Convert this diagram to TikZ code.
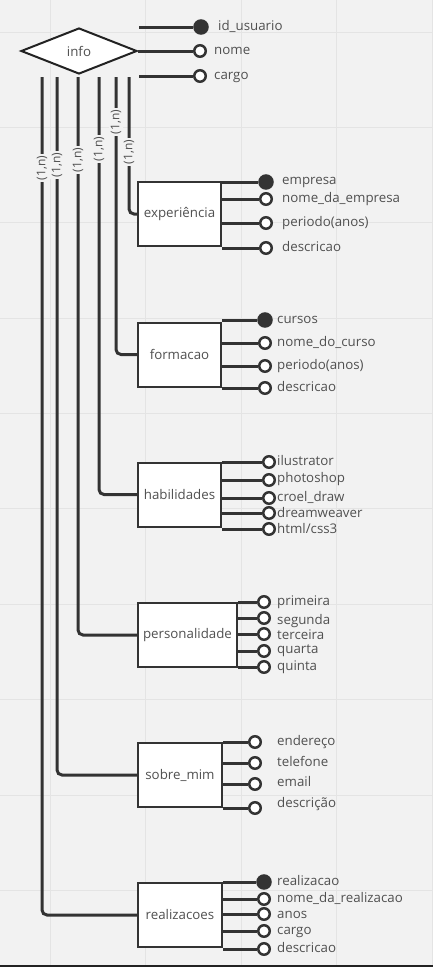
\documentclass[tikz,border=0pt]{standalone}
\usepackage{fontspec}
\setmainfont{Open Sans}
\usetikzlibrary{shapes.geometric}
\definecolor{bg}{HTML}{F2F2F2}
\definecolor{gridc}{HTML}{E4E4E4}
\definecolor{ink}{HTML}{333333}
\definecolor{txt}{HTML}{505050}
\definecolor{barc}{HTML}{222222}
\begin{document}
\begin{tikzpicture}[x=1pt,y=-1pt,
  ent/.style={draw=ink,line width=2pt,fill=white,minimum height=64pt,inner sep=0pt,font=\fontsize{13.3}{15}\selectfont,text=txt},
  rel/.style={diamond,draw=barc,line width=2pt,fill=white,minimum width=116pt,minimum height=46pt,inner sep=0pt,font=\fontsize{13.3}{15}\selectfont,text=txt},
  attr/.style={circle,draw=ink,line width=2.5pt,fill=white,minimum size=11.5pt,inner sep=0pt},
  key/.style={attr,fill=ink,minimum size=13pt},
  lbl/.style={anchor=west,inner sep=0pt,text height=9.5pt,text depth=3pt,font=\fontsize{13.3}{15}\selectfont,text=txt},
  conn/.style={draw=ink,line width=3pt},
  card/.style={fill=bg,rotate=90,inner sep=1.5pt,font=\fontsize{12}{14}\selectfont,text=txt}
]
\useasboundingbox (0,0) rectangle (433,967);
\fill[bg] (0,0) rectangle (433,967);
\foreach \gx in {50,145.5,241,336.5,432} \draw[gridc,line width=1pt] (\gx,0) -- (\gx,967);
\foreach \gy in {32,127,222.5,318,413,508.5,604,699,795,890} \draw[gridc,line width=1pt] (0,\gy) -- (433,\gy);
\fill[barc] (0,964.5) rectangle (433,967);

% relationship
\node[rel] (info) at (79,51) {info};

% top attributes
\node[key] (iid) at (201,27) {};
\node[attr] (inome) at (200,51) {};
\node[attr] (icargo) at (200,76) {};
\coordinate (s1) at (139,27);
\coordinate (s3) at (139,76);
\draw[conn] (s1) -- (iid);
\draw[conn] (info.east) -- (inome);
\draw[conn] (s3) -- (icargo);
\node[lbl] (tiid) at (218,27) {id\_usuario};
\node[lbl] (tinome) at (214,51) {nome};
\node[lbl] (ticargo) at (214,76) {cargo};

% entities
\node[ent,minimum width=83pt] (exp) at (179.5,214) {experiência};
\node[ent,minimum width=83pt] (form) at (179.5,354.5) {formacao};
\node[ent,minimum width=83pt] (hab) at (179.5,494.5) {habilidades};
\node[ent,minimum width=99pt] (pers) at (187.5,635) {personalidade};
\node[ent,minimum width=84pt] (sob) at (180,775) {sobre\_mim};
\node[ent,minimum width=84pt] (real) at (180,915) {realizacoes};

% vertical connectors from info
\coordinate (t1) at (42,77);
\coordinate (t2) at (57,77);
\coordinate (t3) at (78,77);
\coordinate (t4) at (99,77);
\coordinate (t5) at (116,77);
\coordinate (t6) at (129,77);
\draw[conn,rounded corners=5pt] (t6) |- (exp.west);
\draw[conn,rounded corners=5pt] (t5) |- (form.west);
\draw[conn,rounded corners=5pt] (t4) |- (hab.west);
\draw[conn,rounded corners=5pt] (t3) |- (pers.west);
\draw[conn,rounded corners=5pt] (t2) |- (sob.west);
\draw[conn,rounded corners=5pt] (t1) |- (real.west);
\node[card] (c1) at (42,168) {(1,n)};
\node[card] (c2) at (57,165) {(1,n)};
\node[card] (c3) at (78,160) {(1,n)};
\node[card] (c4) at (99,149) {(1,n)};
\node[card] (c5) at (116,122) {(1,n)};
\node[card] (c6) at (129,152) {(1,n)};

% experiencia attributes
\node[key] (e1) at (266,182) {};
\node[attr] (e2) at (266,199) {};
\node[attr] (e3) at (266,223) {};
\node[attr] (e4) at (266,248) {};
\foreach \a in {e1,e2,e3,e4} \draw[conn] (\a -| exp.east) -- (\a);
\node[lbl] at (282,181) {empresa};
\node[lbl] at (282,199) {nome\_da\_empresa};
\node[lbl] at (282,223) {periodo(anos)};
\node[lbl] at (282,248) {descricao};

% formacao attributes
\node[key] (f1) at (265,320) {};
\node[attr] (f2) at (265,343) {};
\node[attr] (f3) at (265,366) {};
\node[attr] (f4) at (265,388) {};
\foreach \a in {f1,f2,f3,f4} \draw[conn] (\a -| form.east) -- (\a);
\node[lbl] at (277,320) {cursos};
\node[lbl] at (277,343) {nome\_do\_curso};
\node[lbl] at (277,366) {periodo(anos)};
\node[lbl] at (277,388) {descricao};

% habilidades attributes
\node[attr] (h1) at (269,462) {};
\node[attr] (h2) at (269,480) {};
\node[attr] (h3) at (269,498) {};
\node[attr] (h4) at (269,513) {};
\node[attr] (h5) at (269,529) {};
\foreach \a in {h1,h2,h3,h4,h5} \draw[conn] (\a -| hab.east) -- (\a);
\node[lbl] at (277,462) {ilustrator};
\node[lbl] at (277,479) {photoshop};
\node[lbl] at (277,498) {croel\_draw};
\node[lbl] at (277,514) {dreamweaver};
\node[lbl] at (277,530) {html/css3};

% personalidade attributes
\node[attr] (p1) at (264,602) {};
\node[attr] (p2) at (264,618) {};
\node[attr] (p3) at (264,634) {};
\node[attr] (p4) at (264,651) {};
\node[attr] (p5) at (264,667) {};
\foreach \a in {p1,p2,p3,p4,p5} \draw[conn] (\a -| pers.east) -- (\a);
\node[lbl] at (277,602) {primeira};
\node[lbl] at (277,621) {segunda};
\node[lbl] at (277,636) {terceira};
\node[lbl] at (277,650) {quarta};
\node[lbl] at (277,667) {quinta};

% sobre_mim attributes
\node[attr] (m1) at (255,742) {};
\node[attr] (m2) at (255,763) {};
\node[attr] (m3) at (255,784) {};
\node[attr] (m4) at (255,808) {};
\foreach \a in {m1,m2,m3,m4} \draw[conn] (\a -| sob.east) -- (\a);
\node[lbl] at (277,742) {endereço};
\node[lbl] at (277,763) {telefone};
\node[lbl] at (277,783) {email};
\node[lbl] at (277,804) {descrição};

% realizacoes attributes
\node[key] (r1) at (264,882) {};
\node[attr] (r2) at (264,899) {};
\node[attr] (r3) at (264,914) {};
\node[attr] (r4) at (264,931) {};
\node[attr] (r5) at (264,949) {};
\foreach \a in {r1,r2,r3,r4,r5} \draw[conn] (\a -| real.east) -- (\a);
\node[lbl] at (277,882) {realizacao};
\node[lbl] at (277,899) {nome\_da\_realizacao};
\node[lbl] at (277,915) {anos};
\node[lbl] at (277,931) {cargo};
\node[lbl] at (277,949) {descricao};
\end{tikzpicture}
\end{document}
